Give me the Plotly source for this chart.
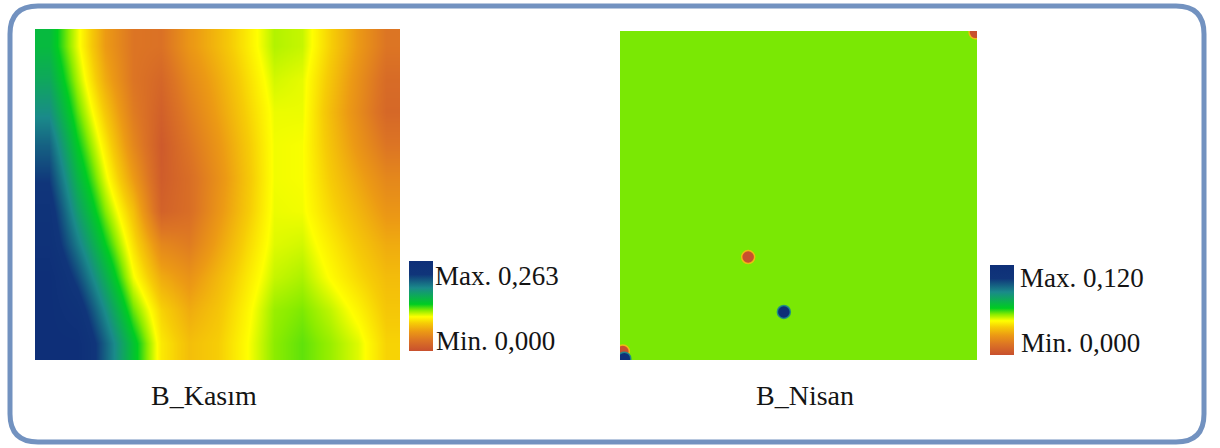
import plotly.graph_objects as go

W, H = 1220, 448

# B_Kasım grid (rows from north to south, columns from west to east)
kasim_cols = list(range(13))
kasim_rows = list(range(10))
kasim_r0 = [0.150, 0.104, 0.058, 0.032, 0.029, 0.055, 0.073, 0.092, 0.112, 0.109, 0.083, 0.057, 0.032]
kasim_r1 = [0.163, 0.113, 0.066, 0.032, 0.020, 0.046, 0.066, 0.087, 0.107, 0.104, 0.078, 0.051, 0.024]
kasim_r2 = [0.181, 0.125, 0.079, 0.037, 0.014, 0.039, 0.061, 0.083, 0.103, 0.103, 0.074, 0.048, 0.021]
kasim_r3 = [0.203, 0.139, 0.092, 0.045, 0.009, 0.032, 0.055, 0.079, 0.102, 0.101, 0.077, 0.054, 0.032]
kasim_r4 = [0.221, 0.154, 0.104, 0.058, 0.011, 0.026, 0.051, 0.077, 0.102, 0.101, 0.081, 0.063, 0.045]
kasim_r5 = [0.237, 0.171, 0.119, 0.076, 0.016, 0.026, 0.054, 0.079, 0.103, 0.102, 0.086, 0.071, 0.055]
kasim_r6 = [0.246, 0.191, 0.137, 0.089, 0.045, 0.037, 0.062, 0.085, 0.105, 0.107, 0.093, 0.079, 0.066]
kasim_r7 = [0.263, 0.215, 0.159, 0.102, 0.066, 0.053, 0.072, 0.091, 0.109, 0.113, 0.099, 0.086, 0.074]
kasim_r8 = [0.263, 0.241, 0.182, 0.123, 0.084, 0.066, 0.078, 0.096, 0.116, 0.120, 0.110, 0.096, 0.079]
kasim_r9 = [0.263, 0.262, 0.203, 0.144, 0.092, 0.075, 0.082, 0.099, 0.118, 0.124, 0.116, 0.105, 0.084]
kasim_z = [kasim_r0, kasim_r1, kasim_r2, kasim_r3, kasim_r4,
           kasim_r5, kasim_r6, kasim_r7, kasim_r8, kasim_r9]
kasim_min, kasim_max = 0.000, 0.263

# B_Nisan: uniform field plus a few local extremes
nisan_background = 0.055
nisan_x = [35.9, 45.9, 99.6, 0.8, 1.2]
nisan_y = [68.7, 85.4, 0.4, 97.4, 99.6]
nisan_val = [0.000, 0.120, 0.000, 0.000, 0.120]
nisan_min, nisan_max = 0.000, 0.120

titles = ["B_Kasım", "B_Nisan"]
max_labels = ["Max. 0,263", "Max. 0,120"]
min_labels = ["Min. 0,000", "Min. 0,000"]

scale = [
    [0.00, "#c8502e"],
    [0.12, "#dc7424"],
    [0.22, "#ec9a14"],
    [0.31, "#f6cc06"],
    [0.38, "#ffff00"],
    [0.45, "#8aec00"],
    [0.52, "#00cc22"],
    [0.70, "#1a8a8a"],
    [0.85, "#10357a"],
    [1.00, "#0e2f78"],
]


def px(x):
    return x / W


def py(y):
    return 1 - y / H


fig = go.Figure()

fig.add_trace(go.Heatmap(
    z=kasim_z, x=kasim_cols, y=kasim_rows, zsmooth="best",
    coloraxis="coloraxis", xaxis="x", yaxis="y", hoverinfo="skip",
))

fig.add_trace(go.Heatmap(
    z=[[nisan_background, nisan_background], [nisan_background, nisan_background]],
    x=[0, 100], y=[0, 100], zsmooth="best",
    coloraxis="coloraxis2", xaxis="x2", yaxis="y2", hoverinfo="skip",
))

ring = ["rgba(245,190,20,0.9)" if v < 0.06 else "rgba(30,140,140,0.9)" for v in nisan_val]
fig.add_trace(go.Scatter(
    x=nisan_x, y=nisan_y, mode="markers", xaxis="x2", yaxis="y2",
    marker=dict(size=13, color=nisan_val, coloraxis="coloraxis2",
                line=dict(width=1.5, color=ring)),
    hoverinfo="skip", showlegend=False, cliponaxis=True,
))

axis_off = dict(visible=False, showgrid=False, zeroline=False, fixedrange=True)

cb_common = dict(thickness=24, thicknessmode="pixels", lenmode="fraction",
                 outlinewidth=0, showticklabels=False, ticks="",
                 xpad=0, ypad=0, xanchor="left", yanchor="middle", borderwidth=0)

fig.update_layout(
    width=W, height=H,
    margin=dict(l=0, r=0, t=0, b=0),
    paper_bgcolor="white", plot_bgcolor="white",
    showlegend=False,
    xaxis=dict(domain=[px(35), px(400)], **axis_off),
    yaxis=dict(domain=[py(360), py(29)], autorange="reversed", **axis_off),
    xaxis2=dict(domain=[px(620), px(977)], range=[0, 100], **axis_off),
    yaxis2=dict(domain=[py(360), py(31)], range=[100, 0], **axis_off),
    coloraxis=dict(colorscale=scale, cmin=kasim_min, cmax=kasim_max,
                   colorbar=dict(x=px(409), y=py(306), len=90 / H, **cb_common)),
    coloraxis2=dict(colorscale=scale, cmin=nisan_min, cmax=nisan_max,
                    colorbar=dict(x=px(990), y=py(310), len=90 / H, **cb_common)),
)

# rounded frame around the panel
x0, x1, y0, y1, r = 10, 1204, 6, 442, 28
path = (
    f"M {px(x0 + r)},{py(y0)} L {px(x1 - r)},{py(y0)} "
    f"Q {px(x1)},{py(y0)} {px(x1)},{py(y0 + r)} "
    f"L {px(x1)},{py(y1 - r)} Q {px(x1)},{py(y1)} {px(x1 - r)},{py(y1)} "
    f"L {px(x0 + r)},{py(y1)} Q {px(x0)},{py(y1)} {px(x0)},{py(y1 - r)} "
    f"L {px(x0)},{py(y0 + r)} Q {px(x0)},{py(y0)} {px(x0 + r)},{py(y0)} Z"
)
fig.add_shape(type="path", path=path, xref="paper", yref="paper",
              line=dict(color="#7292c0", width=5), layer="above")

serif = "Liberation Serif, Times New Roman, serif"
txt = dict(xref="paper", yref="paper", showarrow=False,
           font=dict(family=serif, size=27, color="#141414"))

for cx, label in zip([204, 805], titles):
    fig.add_annotation(x=px(cx), y=py(395), text=label, xanchor="center",
                       yanchor="middle", font=dict(family=serif, size=28, color="#141414"),
                       xref="paper", yref="paper", showarrow=False)
for lx, ly, label in [(433, 276, max_labels[0]), (1018, 278, max_labels[1])]:
    fig.add_annotation(x=px(lx), y=py(ly), text=label, xanchor="left",
                       yanchor="middle", **txt)
for lx, ly, label in [(434, 341, min_labels[0]), (1019, 343, min_labels[1])]:
    fig.add_annotation(x=px(lx), y=py(ly), text=label, xanchor="left",
                       yanchor="middle", **txt)

fig.write_html("out.html")
